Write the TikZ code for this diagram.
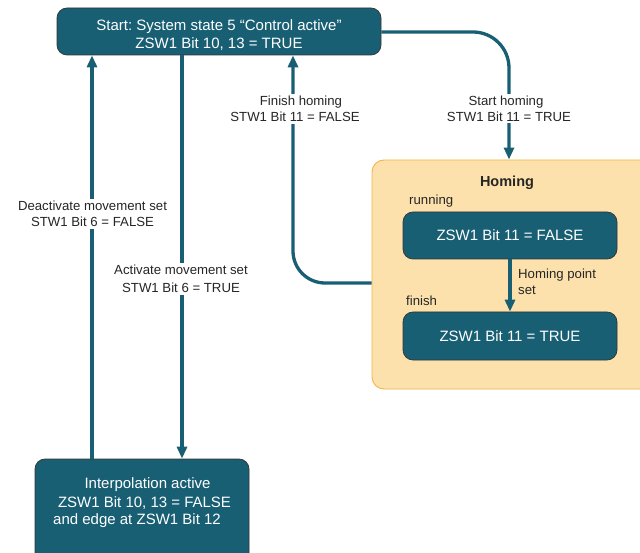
\documentclass[tikz,border=0pt]{standalone}
\usepackage{fontspec}
\setmainfont{Liberation Sans}
\frenchspacing
\usetikzlibrary{arrows.meta}
\definecolor{teal}{HTML}{185F74}
\definecolor{homefill}{HTML}{FCE1AC}
\definecolor{homeedge}{HTML}{F2B548}
\tikzset{
  state/.style={draw=black!80, line width=0.7pt, fill=teal, rounded corners=10pt, text=white, font=\fontsize{15}{20}\selectfont, align=center, inner sep=0pt},
  boxtext/.style={text=white, font=\fontsize{15}{18}\selectfont, inner sep=0pt, align=center},
  conn/.style={draw=teal, line width=3.3pt, -{Triangle[length=12pt,width=10pt]}},
  lbl/.style={fill=white, font=\fontsize{13.2}{16}\selectfont, align=center, inner sep=2pt, text=black!85},
  tag/.style={font=\fontsize{13.2}{16}\selectfont, text=black!85, inner sep=0pt},
}
\begin{document}
\begin{tikzpicture}[x=1pt, y=-1pt]
\useasboundingbox (0,0) rectangle (640,553);
% state boxes
\node[state, minimum width=324pt, minimum height=47pt] (start) at (219,31.5) {};
\node[boxtext] (starttext) at (219,35)
  {Start: System state 5 “Control active”\\ZSW1 Bit 10, 13 = TRUE};
\node[draw=homeedge, fill=homefill, line width=0.9pt, rounded corners=12pt,
  minimum width=280pt, minimum height=229pt, inner sep=0pt] (homing) at (512,274.5) {};
\node[tag, font=\fontsize{14.5}{16}\selectfont\bfseries] (homtitle) at (507,183) {Homing};
\node[tag, anchor=west] (running) at (409,201) {running};
\node[tag, anchor=west] (finish) at (406,301) {finish};
\node[state, minimum width=214pt, minimum height=47pt] (run) at (510,235.5) {ZSW1 Bit 11 = FALSE};
\node[state, minimum width=214pt, minimum height=48pt] (fin) at (510,336) {ZSW1 Bit 11 = TRUE};
\node[state, minimum width=214pt, minimum height=120pt] (interp) at (142,519) {};
\node[boxtext] (interp1) at (147.5,485) {Interpolation active};
\node[boxtext] (interp2) at (144.5,503) {ZSW1 Bit 10, 13 = FALSE};
\node[boxtext] (interp3) at (137,521) {and edge at ZSW1 Bit 12};
% guide coordinates for the vertical runs
\coordinate (xa) at (92,0);
\coordinate (xb) at (182,0);
\coordinate (fh) at (293,283);
\coordinate (sh) at (509,32);
% connectors
\draw[conn] (interp.north -| xa) -- (start.south -| xa);
\draw[conn] (start.south -| xb) -- (interp.north -| xb);
\draw[conn, rounded corners=32pt] (homing.west |- fh) -- (fh) -- (start.south -| fh);
\draw[conn, rounded corners=36pt] (start.east |- sh) -- (sh) -- (homing.north -| sh);
\draw[conn] (run.south) -- (fin.north);
% connector labels
\node[lbl] (deact) at (92.5,214) {Deactivate movement set\\STW1 Bit 6 = FALSE};
\node[lbl, font=\fontsize{13.2}{18}\selectfont] (act) at (181,279) {Activate movement set\\STW1 Bit 6 = TRUE};
\node[lbl] (finlbl) at (295,109) {\hspace*{12pt}Finish homing\\STW1 Bit 11 = FALSE};
\node[lbl] (stlbl) at (509,108.5) {\hspace*{-6pt}Start homing\\STW1 Bit 11 = TRUE};
\node[tag, align=left, anchor=west] (hp) at (518,282) {Homing point\\set};
\end{tikzpicture}
\end{document}
